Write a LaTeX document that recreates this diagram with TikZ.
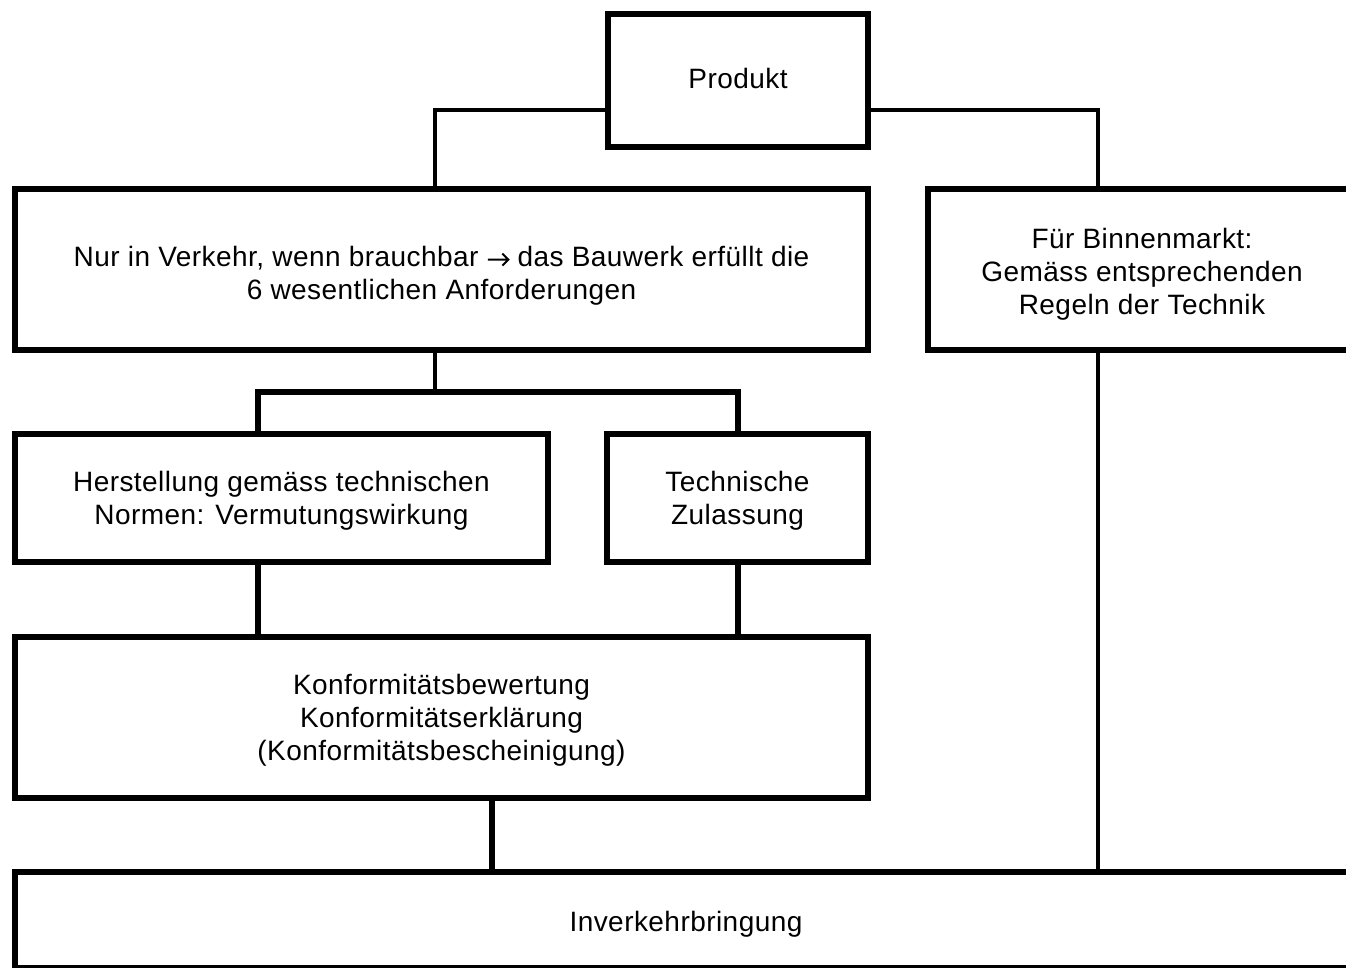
\documentclass[tikz,border=0pt]{standalone}
\usepackage{fontspec}
\setmainfont{Liberation Sans}[LetterSpace=1.6]
\newcommand{\bigarrow}{\tikz[x=1pt,y=1pt,baseline=0pt]{\draw[line width=2pt,line join=miter] (0,6.5) -- (20.5,6.5) (14.5,12.5) -- (20.5,6.5) -- (14.5,0.5);}}
\begin{document}
\begin{tikzpicture}[x=1pt,y=-1pt,
  box/.style={draw=black,line width=6pt,fill=white,align=center,inner sep=0pt,
    font=\fontsize{28}{33}\selectfont},
  thinline/.style={line width=3.5pt},
  thickline/.style={line width=5.5pt}]
\useasboundingbox (0,0) rectangle (1346,967);
\clip (0,0) rectangle (1346,967);
\node[box,minimum width=260pt,minimum height=133pt] (prod) at (738,80.5) {\raisebox{4pt}{Produkt}};
\node[box,minimum width=853pt,minimum height=161pt] (nur) at (441.5,269.5)
  {\rule{0pt}{32pt}Nur in Verkehr, wenn brauchbar \bigarrow\ das Bauwerk erfüllt die\\6 wesentlichen Anforderungen};
\node[box,minimum width=428pt,minimum height=161pt] (fuer) at (1142,269.5)
  {\rule{0pt}{30pt}Für Binnenmarkt:\\Gemäss entsprechenden\\Regeln der Technik};
\node[box,minimum width=533pt,minimum height=128pt] (herst) at (281.5,498)
  {\rule{0pt}{26pt}Herstellung gemäss technischen\\Normen: Vermutungswirkung};
\node[box,minimum width=261pt,minimum height=128pt] (tech) at (737.5,498)
  {\rule{0pt}{26pt}Technische\\Zulassung};
\node[box,minimum width=853pt,minimum height=161pt] (konf) at (441.5,717.5)
  {\rule{0pt}{26pt}Konformitätsbewertung\\Konformitätserklärung\\(Konformitätsbescheinigung)};
\node[box,minimum width=1342pt,minimum height=96pt] (inv) at (686,920)
  {\rule{0pt}{28pt}Inverkehrbringung};
% connectors
\draw[thinline] (prod.west |- 0,110) -| (nur.north -| 435,0);
\draw[thinline] (prod.east |- 0,110) -| (fuer.north -| 1098,0);
\coordinate (split) at (435,392);
\draw[thinline] (nur.south -| split) -- (split);
\draw[thickline] (herst.north -| 258,0) |- (split) -| (tech.north -| 738,0);
\draw[thickline] (herst.south -| 258,0) -- (konf.north -| 258,0);
\draw[thickline] (tech.south -| 738,0) -- (konf.north -| 738,0);
\draw[thickline] (konf.south -| 492,0) -- (inv.north -| 492,0);
\draw[thinline] (fuer.south -| 1098,0) -- (inv.north -| 1098,0);
\end{tikzpicture}
\end{document}
